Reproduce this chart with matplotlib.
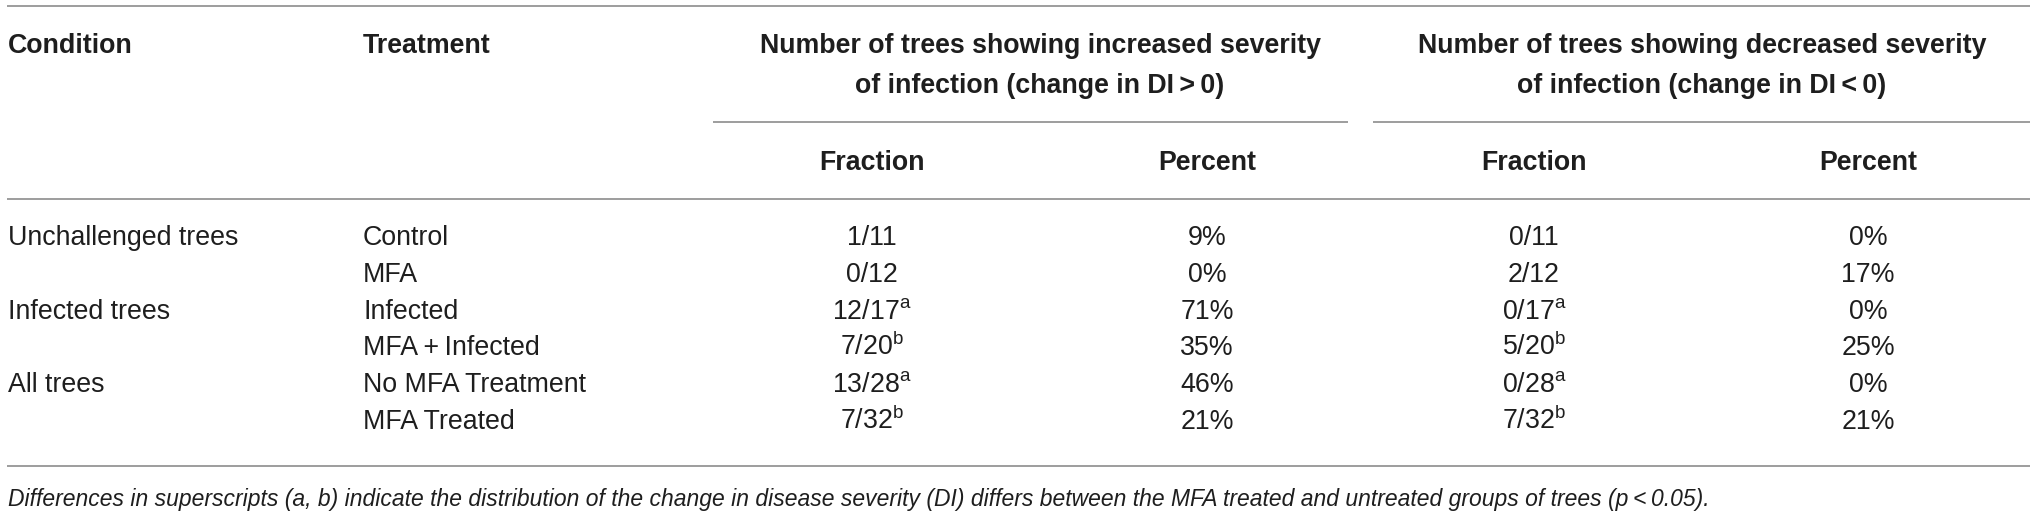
import matplotlib
matplotlib.use("Agg")
import matplotlib.pyplot as plt

plt.rcParams['font.family'] = ['Liberation Sans', 'DejaVu Sans']
plt.rcParams['mathtext.fontset'] = 'custom'
plt.rcParams['mathtext.rm'] = 'Liberation Sans'
plt.rcParams['mathtext.it'] = 'Liberation Sans:italic'
plt.rcParams['mathtext.bf'] = 'Liberation Sans:bold'

# ---- data ----
col_headers = ["Condition", "Treatment"]
group_headers = [
    ["Number of trees showing increased severity", "of infection (change in DI\u2009>\u20090)"],
    ["Number of trees showing decreased severity", "of infection (change in DI\u2009<\u20090)"],
]
sub_headers = ["Fraction", "Percent", "Fraction", "Percent"]
conditions = ["Unchallenged trees", "", "Infected trees", "", "All trees", ""]
treatments = ["Control", "MFA", "Infected", "MFA\u2009+\u2009Infected", "No MFA Treatment", "MFA Treated"]
frac_increased = ["1/11", "0/12", "12/17", "7/20", "13/28", "7/32"]
sup_increased = ["", "", "a", "b", "a", "b"]
pct_increased = ["9%", "0%", "71%", "35%", "46%", "21%"]
frac_decreased = ["0/11", "2/12", "0/17", "5/20", "0/28", "7/32"]
sup_decreased = ["", "", "a", "b", "a", "b"]
pct_decreased = ["0%", "17%", "0%", "25%", "0%", "21%"]
footnote = ("Differences in superscripts (a, b) indicate the distribution of the change in disease "
            "severity (DI) differs between the MFA treated and untreated groups of trees (p\u2009<\u20090.05).")

# ---- layout (pixels) ----
W, H = 2032, 517
fig = plt.figure(figsize=(W / 100, H / 100), dpi=100)
ax = fig.add_axes([0, 0, 1, 1])
ax.set_xlim(0, W)
ax.set_ylim(H, 0)
ax.axis('off')

FS = 19.3
TXT = '#1e1e1e'
LC = '#8c8c8c'
LW = 1.2

x_cond, x_treat = 8, 363
x_cols = [872, 1207, 1534, 1868]
x_groups = [1040, 1702]

def hline(y, x0, x1):
    ax.plot([x0, x1], [y, y], color=LC, lw=LW, solid_capstyle='butt')

hline(6, 7, 2030)
hline(122, 713, 1348)
hline(122, 1373, 2030)
hline(199, 7, 2030)
hline(466, 7, 2030)

# headers
ax.text(x_cond, 53, col_headers[0], fontsize=FS, fontweight='bold', color=TXT, ha='left', va='baseline')
ax.text(x_treat, 53, col_headers[1], fontsize=FS, fontweight='bold', color=TXT, ha='left', va='baseline')
for xg, lines in zip(x_groups, group_headers):
    ax.text(xg, 53, lines[0], fontsize=FS, fontweight='bold', color=TXT, ha='center', va='baseline')
    ax.text(xg, 93, lines[1], fontsize=FS, fontweight='bold', color=TXT, ha='center', va='baseline')
for xc, s in zip(x_cols, sub_headers):
    ax.text(xc, 170, s, fontsize=FS, fontweight='bold', color=TXT, ha='center', va='baseline')

def with_sup(v, s):
    return v + (r"$^{\mathrm{%s}}$" % s if s else "")

for i in range(len(treatments)):
    yb = 245 + 36.8 * i
    ax.text(x_cond, yb, conditions[i], fontsize=FS, color=TXT, ha='left', va='baseline')
    ax.text(x_treat, yb, treatments[i], fontsize=FS, color=TXT, ha='left', va='baseline')
    ax.text(x_cols[0], yb, with_sup(frac_increased[i], sup_increased[i]), fontsize=FS, color=TXT, ha='center', va='baseline')
    ax.text(x_cols[1], yb, pct_increased[i], fontsize=FS, color=TXT, ha='center', va='baseline')
    ax.text(x_cols[2], yb, with_sup(frac_decreased[i], sup_decreased[i]), fontsize=FS, color=TXT, ha='center', va='baseline')
    ax.text(x_cols[3], yb, pct_decreased[i], fontsize=FS, color=TXT, ha='center', va='baseline')

ax.text(x_cond, 506, footnote, fontsize=FS * 0.855, style='italic', color=TXT, ha='left', va='baseline')

fig.savefig("out.png", dpi=100, facecolor='white')
